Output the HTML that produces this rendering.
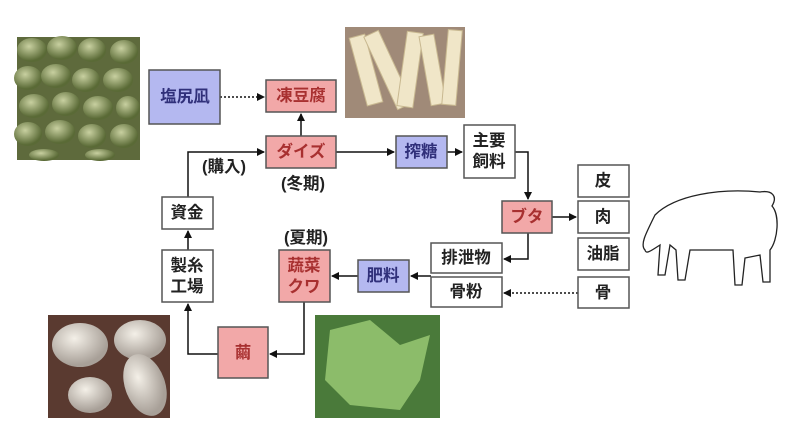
<!DOCTYPE html>
<html><head><meta charset="utf-8"><style>
body{margin:0;background:#fff}
svg text{font-family:"Liberation Sans","Noto Sans CJK JP",sans-serif;font-size:16.5px;font-weight:bold;text-anchor:middle;dominant-baseline:central}
</style></head><body>
<svg width="800" height="443" xmlns="http://www.w3.org/2000/svg">
<defs>
<marker id="a" markerWidth="8" markerHeight="8" refX="7" refY="4" orient="auto" markerUnits="userSpaceOnUse"><path d="M0,0L8,4L0,8z" fill="#111"/></marker>
<radialGradient id="bean" cx="40%" cy="35%" r="60%"><stop offset="0" stop-color="#c8d0a0"/><stop offset="1" stop-color="#5a6a36"/></radialGradient>
<radialGradient id="coc" cx="40%" cy="35%" r="60%"><stop offset="0" stop-color="#f4f0e8"/><stop offset="1" stop-color="#a8a098"/></radialGradient>
</defs>
<rect x="17" y="37" width="123" height="123" fill="#5e6a3c"/>
<g fill="url(#bean)">
<ellipse cx="32" cy="50" rx="15" ry="12"/><ellipse cx="62" cy="48" rx="15" ry="12"/><ellipse cx="92" cy="50" rx="14" ry="12"/><ellipse cx="124" cy="52" rx="14" ry="12"/>
<ellipse cx="28" cy="78" rx="14" ry="12"/><ellipse cx="56" cy="76" rx="15" ry="12"/><ellipse cx="86" cy="80" rx="14" ry="12"/><ellipse cx="118" cy="80" rx="15" ry="12"/>
<ellipse cx="34" cy="106" rx="15" ry="12"/><ellipse cx="66" cy="104" rx="14" ry="12"/><ellipse cx="98" cy="108" rx="15" ry="12"/><ellipse cx="128" cy="108" rx="12" ry="12"/>
<ellipse cx="28" cy="134" rx="14" ry="12"/><ellipse cx="60" cy="132" rx="15" ry="12"/><ellipse cx="92" cy="136" rx="14" ry="12"/><ellipse cx="124" cy="136" rx="14" ry="12"/>
<ellipse cx="44" cy="155" rx="15" ry="6"/><ellipse cx="100" cy="155" rx="15" ry="6"/>
</g>
<rect x="345" y="27" width="120" height="91" fill="#a08a78"/>
<g fill="#f0e6c8" stroke="#c8b890">
<rect x="358" y="35" width="16" height="70" transform="rotate(-15 366 70)"/><rect x="380" y="30" width="16" height="80" transform="rotate(-25 388 70)"/>
<rect x="402" y="32" width="16" height="75" transform="rotate(8 410 70)"/><rect x="425" y="35" width="15" height="70" transform="rotate(-10 432 70)"/><rect x="445" y="30" width="14" height="75" transform="rotate(5 452 68)"/>
</g>
<rect x="48" y="315" width="122" height="103" fill="#5a3a30"/>
<ellipse cx="80" cy="345" rx="28" ry="22" fill="url(#coc)"/><ellipse cx="140" cy="340" rx="26" ry="20" fill="url(#coc)"/>
<ellipse cx="145" cy="385" rx="20" ry="32" fill="url(#coc)" transform="rotate(-20 145 385)"/><ellipse cx="90" cy="395" rx="22" ry="18" fill="url(#coc)"/>
<rect x="315" y="315" width="125" height="103" fill="#4a7a3a"/>
<path d="M330,330 L370,320 L400,345 L430,335 L420,380 L400,410 L350,405 L325,380z" fill="#8cbc6a"/>
<path d="M655,215 C675,195 720,188 760,192 C772,190 778,196 772,206 C780,215 778,240 770,250 L770,282 L763,282 L760,255 L745,258 L742,285 L735,285 L733,250 L690,250 L685,280 L678,280 L676,250 L670,245 L665,275 L658,275 L660,245 C652,250 646,255 645,250 C640,245 645,235 655,215z" fill="none" stroke="#222" stroke-width="1.3"/>
<g stroke="#111" stroke-width="1.5" fill="none">
<path d="M188,197 V152 H264" marker-end="url(#a)"/>
<path d="M301,136 V114" marker-end="url(#a)"/>
<path d="M336,152 H394" marker-end="url(#a)"/>
<path d="M447,152 H462" marker-end="url(#a)"/>
<path d="M515,152 H528 V199" marker-end="url(#a)"/>
<path d="M552,217 H576" marker-end="url(#a)"/>
<path d="M528,233 V259 H504" marker-end="url(#a)"/>
<path d="M431,276 H411" marker-end="url(#a)"/>
<path d="M358,276 H332" marker-end="url(#a)"/>
<path d="M304,302 V354 H270" marker-end="url(#a)"/>
<path d="M218,354 H188 V304" marker-end="url(#a)"/>
<path d="M188,250 V231" marker-end="url(#a)"/>
<path d="M220,97 H264" stroke-dasharray="2,2" marker-end="url(#a)"/>
<path d="M578,293 H504" stroke-dasharray="2,2" marker-end="url(#a)"/>
</g>
<g stroke="#555" stroke-width="1.5">
<rect x="149" y="70" width="71" height="54" fill="#b4b8f0"/>
<rect x="266" y="80" width="70" height="32" fill="#f2a8a8"/>
<rect x="266" y="136" width="70" height="32" fill="#f2a8a8"/>
<rect x="396" y="136" width="51" height="32" fill="#b4b8f0"/>
<rect x="464" y="125" width="51" height="53" fill="#fff"/>
<rect x="502" y="201" width="50" height="32" fill="#f2a8a8"/>
<rect x="578" y="165" width="51" height="32" fill="#fff"/>
<rect x="578" y="201" width="51" height="32" fill="#fff"/>
<rect x="578" y="238" width="51" height="32" fill="#fff"/>
<rect x="578" y="277" width="51" height="31" fill="#fff"/>
<rect x="431" y="243" width="71" height="30" fill="#fff"/>
<rect x="431" y="277" width="71" height="30" fill="#fff"/>
<rect x="358" y="260" width="51" height="32" fill="#b4b8f0"/>
<rect x="279" y="250" width="51" height="52" fill="#f2a8a8"/>
<rect x="162" y="250" width="51" height="52" fill="#fff"/>
<rect x="162" y="197" width="51" height="32" fill="#fff"/>
<rect x="218" y="327" width="50" height="51" fill="#f2a8a8"/>
</g>
<g fill="#30307a"><text x="185" y="97">塩尻凪</text><text x="421" y="152">搾糖</text><text x="383" y="276">肥料</text></g>
<g fill="#a83030"><text x="301" y="96">凍豆腐</text><text x="301" y="152">ダイズ</text><text x="527" y="217">ブタ</text>
<text x="304" y="266">蔬菜</text><text x="304" y="287">クワ</text><text x="243" y="353">繭</text></g>
<g fill="#222"><text x="489" y="141">主要</text><text x="489" y="162">飼料</text>
<text x="603" y="181">皮</text><text x="603" y="217">肉</text><text x="603" y="254">油脂</text><text x="603" y="293">骨</text>
<text x="466" y="258">排泄物</text><text x="466" y="292">骨粉</text>
<text x="187" y="266">製糸</text><text x="187" y="287">工場</text><text x="187" y="213">資金</text>
<text x="224" y="167">(購入)</text><text x="303" y="184">(冬期)</text><text x="306" y="238">(夏期)</text></g>
</svg>
</body></html>
